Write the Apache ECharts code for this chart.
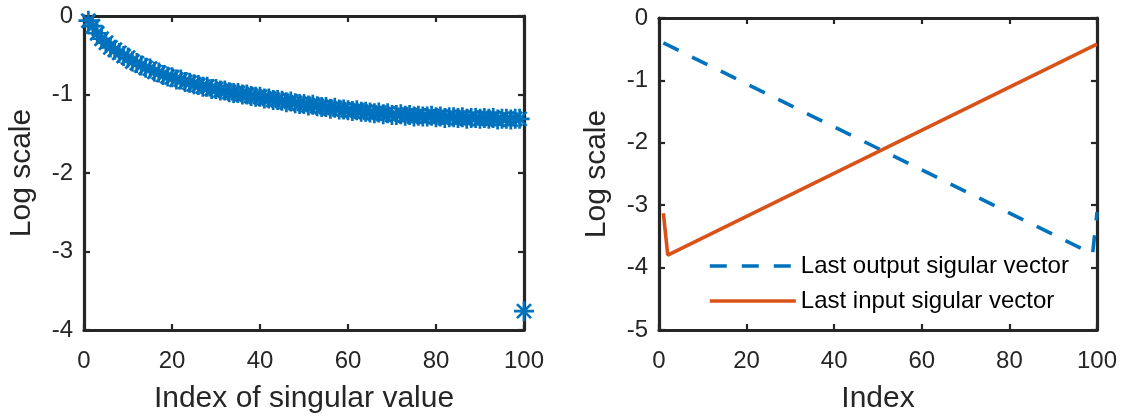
<!DOCTYPE html>
<html>
<head>
<meta charset="utf-8">
<script src="https://cdn.jsdelivr.net/npm/echarts@6/dist/echarts.min.js"></script>
<style>
  html, body { margin: 0; padding: 0; background: #fff; }
  #chart { width: 1125px; height: 419px; }
</style>
</head>
<body>
<div id="chart"></div>
<script>
// Left panel: log-scaled singular values, one per index
const singularIndex = Array.from({ length: 100 }, (_, i) => i + 1);
const singularLog = [
  -0.06, -0.13, -0.22, -0.29, -0.34, -0.40, -0.43, -0.47, -0.51, -0.53,
  -0.58, -0.60, -0.63, -0.66, -0.67, -0.71, -0.72, -0.75, -0.77, -0.78,
  -0.81, -0.81, -0.84, -0.85, -0.87, -0.88, -0.90, -0.90, -0.93, -0.93,
  -0.95, -0.95, -0.97, -0.98, -0.98, -1.00, -1.00, -1.02, -1.03, -1.03,
  -1.05, -1.05, -1.07, -1.07, -1.08, -1.10, -1.09, -1.11, -1.12, -1.12,
  -1.14, -1.13, -1.15, -1.16, -1.16, -1.18, -1.17, -1.19, -1.19, -1.20,
  -1.21, -1.20, -1.22, -1.22, -1.23, -1.24, -1.23, -1.25, -1.24, -1.26,
  -1.26, -1.25, -1.27, -1.26, -1.28, -1.27, -1.28, -1.28, -1.27, -1.29,
  -1.28, -1.30, -1.29, -1.29, -1.30, -1.29, -1.31, -1.30, -1.30, -1.31,
  -1.30, -1.31, -1.30, -1.32, -1.31, -1.31, -1.32, -1.31, -1.31, -3.76
];

// Right panel: last singular vectors (straight segments between vertices)
const outputIndex = [1, 99, 100];
const outputLog = [-0.40, -3.78, -3.11];
const inputIndex = [1, 2, 100];
const inputLog = [-3.13, -3.80, -0.42];

const xTicks = [0, 20, 40, 60, 80, 100];
const leftYTicks = [-4, -3, -2, -1, 0];
const rightYTicks = [-5, -4, -3, -2, -1, 0];

const ink = '#262626';
const blue = '#0072BD';
const orange = '#D95319';
const font = 'Liberation Sans, Arial, Helvetica, sans-serif';

const pairs = (xs, ys) => xs.map((x, i) => [x, ys[i]]);

function xAxisDef(grid, pos, showLabels, name) {
  return {
    type: 'value', gridIndex: grid, position: pos,
    min: xTicks[0], max: xTicks[xTicks.length - 1], interval: 20,
    name: showLabels ? name : '', nameLocation: 'middle', nameGap: 54,
    nameTextStyle: { color: ink, fontSize: 30, fontFamily: font },
    axisLine: { show: true, onZero: false, lineStyle: { color: ink, width: 3.2 } },
    axisTick: { show: true, inside: true, length: 6, lineStyle: { color: ink, width: 2.2 } },
    axisLabel: { show: showLabels, color: ink, fontSize: 24, fontFamily: font, margin: 19 },
    splitLine: { show: false }
  };
}

function yAxisDef(grid, pos, showLabels, ticks) {
  return {
    type: 'value', gridIndex: grid, position: pos,
    min: ticks[0], max: ticks[ticks.length - 1], interval: 1,
    name: showLabels ? 'Log scale' : '', nameLocation: 'middle', nameGap: 47,
    nameTextStyle: { color: ink, fontSize: 30, fontFamily: font },
    axisLine: { show: true, onZero: false, lineStyle: { color: ink, width: 3.2 } },
    axisTick: { show: true, inside: true, length: 6, lineStyle: { color: ink, width: 2.2 } },
    axisLabel: { show: showLabels, color: ink, fontSize: 24, fontFamily: font, margin: 11 },
    splitLine: { show: false }
  };
}

const asterisk = 'path://M10,0L10,20M0,10L20,10M3,3L17,17M3,17L17,3';

const option = {
  animation: false,
  backgroundColor: '#ffffff',
  grid: [
    { left: 84, top: 16, width: 440, height: 315 },
    { left: 659, top: 18, width: 438, height: 313 }
  ],
  xAxis: [
    xAxisDef(0, 'bottom', true, 'Index of singular value'),
    xAxisDef(0, 'top', false, ''),
    xAxisDef(1, 'bottom', true, 'Index'),
    xAxisDef(1, 'top', false, '')
  ],
  yAxis: [
    yAxisDef(0, 'left', true, leftYTicks),
    yAxisDef(0, 'right', false, leftYTicks),
    yAxisDef(1, 'left', true, rightYTicks),
    yAxisDef(1, 'right', false, rightYTicks)
  ],
  legend: {
    left: 703, top: 249, orient: 'vertical', itemGap: 11,
    itemWidth: 86, itemHeight: 24,
    itemStyle: { opacity: 0 },
    lineStyle: { width: 3.6 },
    textStyle: { color: '#000', fontSize: 24, fontFamily: font },
    data: ['Last output sigular vector', 'Last input sigular vector']
  },
  series: [
    {
      type: 'scatter', xAxisIndex: 0, yAxisIndex: 0,
      data: pairs(singularIndex, singularLog),
      symbol: asterisk, symbolSize: 20,
      itemStyle: { color: 'none', borderColor: blue, borderWidth: 2.7, opacity: 1 },
      clip: false
    },
    {
      name: 'Last output sigular vector', type: 'line', xAxisIndex: 2, yAxisIndex: 2,
      data: pairs(outputIndex, outputLog), showSymbol: false, symbol: 'none',
      lineStyle: { color: blue, width: 3.6, type: [17, 15], cap: 'butt' },
      itemStyle: { color: blue }
    },
    {
      name: 'Last input sigular vector', type: 'line', xAxisIndex: 2, yAxisIndex: 2,
      data: pairs(inputIndex, inputLog), showSymbol: false, symbol: 'none',
      lineStyle: { color: orange, width: 3.6 },
      itemStyle: { color: orange }
    }
  ]
};

const chart = echarts.init(document.getElementById('chart'), null, { renderer: 'canvas' });
chart.setOption(option);
</script>
</body>
</html>
